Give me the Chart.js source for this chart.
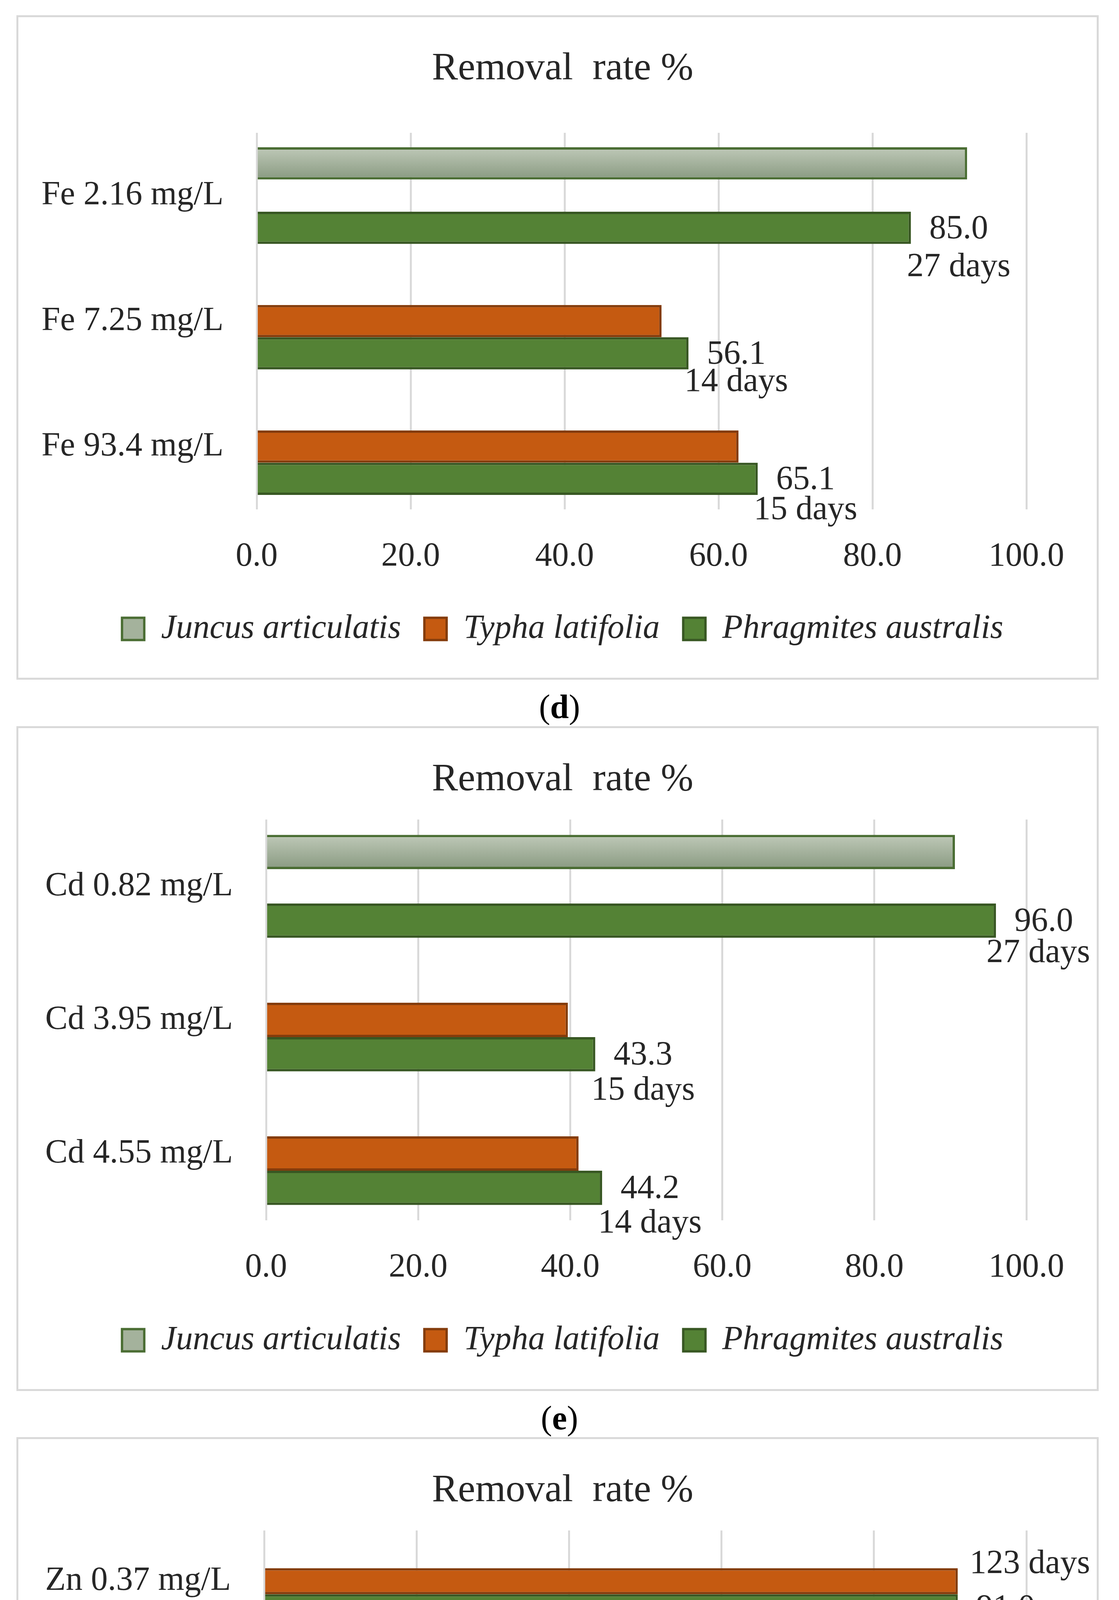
<!DOCTYPE html>
<html>
<head>
<meta charset="utf-8">
<title>Removal rate %</title>
<script src="https://cdn.jsdelivr.net/npm/chart.js@4.4.1/dist/chart.umd.min.js"></script>
<style>
  html, body { margin: 0; padding: 0; background: #fff; }
  body { width: 2864px; height: 5537px; position: relative; font-family: "Liberation Serif", "Times New Roman", serif; }
  .frame { position: absolute; left: 42px; width: 2770px; border: 5px solid #d9d9d9; box-sizing: border-box; background: #fff; }
  .frame canvas { display: block; }
  .caption { position: absolute; left: 0; width: 2864px; text-align: center; font-size: 86px; line-height: 104px; color: #000; }
</style>
</head>
<body>
<div class="frame" style="top:39px;height:1701px"><canvas id="chart-fe" width="2760" height="1691"></canvas></div>
<div class="caption" style="top:1757px">(<b>d</b>)</div>

<div class="frame" style="top:1859px;height:1702px"><canvas id="chart-cd" width="2760" height="1692"></canvas></div>
<div class="caption" style="top:3578px">(<b>e</b>)</div>

<div class="frame" style="top:3679px;height:1717px"><canvas id="chart-zn" width="2760" height="1707"></canvas></div>
<div class="caption" style="top:5413px">(<b>f</b>)</div>

<script>
// Data
const speciesNames = ['Juncus articulatis', 'Typha latifolia', 'Phragmites australis'];
const xTickValues = [0, 20, 40, 60, 80, 100];

const feLabels = ['Fe 2.16 mg/L', 'Fe 7.25 mg/L', 'Fe 93.4 mg/L'];
const feJuncus = [92.3, null, null];
const feTypha = [null, 52.6, 62.6];
const fePhragmites = [85.0, 56.1, 65.1];
const feDays = ['27 days', '14 days', '15 days'];

const cdLabels = ['Cd 0.82 mg/L', 'Cd 3.95 mg/L', 'Cd 4.55 mg/L'];
const cdJuncus = [90.6, null, null];
const cdTypha = [null, 39.7, 41.1];
const cdPhragmites = [96.0, 43.3, 44.2];
const cdDays = ['27 days', '15 days', '14 days'];

const znLabels = ['Zn 0.37 mg/L', 'Zn 0.82 mg/L', 'Zn 6.06 mg/L', 'Zn 47.2 mg/L'];
const znJuncus = [null, 98.3, null, null];
const znTypha = [91.0, null, 52.6, 59.4];
const znPhragmites = [91.0, 99.5, 55.1, 55.8];
const znDays = ['123 days', '27 days', '14 days', '15 days'];

// where the "days" line sits relative to the value label (px, negative = above)
const feDaysGap = [97, 70, 77];
const cdDaysGap = [80, 90, 88];
const znDaysGap = [-114, 76, 95, 86];

const FONT = '"Liberation Serif", "Times New Roman", serif';
const TEXT = '#262626';
const LABEL_SIZE = 86;
const LEGEND_PAD = 60;
const PAD_LEFT = 46;
const PAD_RIGHT = 20;
const PAD_BOTTOM = 72;
const PLOT_RIGHT = 2580;

Chart.defaults.font.family = FONT;
Chart.defaults.color = TEXT;

// Juncus bars get a vertical light-to-dark green/grey gradient
const juncusGradient = {
    id: 'juncusGradient',
    beforeDatasetsDraw(chart) {
        const ctx = chart.ctx;
        chart.getDatasetMeta(0).data.forEach(bar => {
            if (!bar || isNaN(bar.y) || !bar.height) return;
            const top = bar.y - bar.height / 2;
            const g = ctx.createLinearGradient(0, top, 0, top + bar.height);
            g.addColorStop(0, '#bfc9b8');
            g.addColorStop(1, '#899a81');
            bar.options.backgroundColor = g;
        });
    }
};

// value + duration notes next to the Phragmites bars
const barNotes = {
    id: 'barNotes',
    afterDatasetsDraw(chart) {
        const ds = chart.data.datasets[2];
        const ctx = chart.ctx;
        const limit = chart.width - 17;
        ctx.save();
        ctx.font = LABEL_SIZE + 'px ' + FONT;
        ctx.fillStyle = TEXT;
        ctx.textBaseline = 'middle';
        ctx.textAlign = 'left';
        chart.getDatasetMeta(2).data.forEach((bar, i) => {
            const v = ds.data[i];
            if (v === null) return;
            const txt = v.toFixed(1);
            const w1 = ctx.measureText(txt).width;
            const x1 = Math.min(bar.x + 47, limit - w1);
            const y1 = bar.y + 4;
            ctx.fillText(txt, x1, y1);
            const gap = ds.daysGap[i];
            const w2 = ctx.measureText(ds.days[i]).width;
            // a note above the bar is pushed to the right edge, below it is centred
            const x2 = gap < 0 ? limit - w2 : Math.min(x1 + w1 / 2 - w2 / 2, limit - w2);
            ctx.fillText(ds.days[i], x2, y1 + gap);
        });
        ctx.restore();
    }
};

function makeChart(id, labels, juncus, typha, phrag, days, daysGap, box) {
    const canvas = document.getElementById(id);
    const legendHeight = LABEL_SIZE + LEGEND_PAD + 10;
    const xAxisHeight = canvas.height - PAD_BOTTOM - legendHeight - box.plotBottom;

    return new Chart(canvas.getContext('2d'), {
        type: 'bar',
        data: {
            labels: labels,
            datasets: [{
                label: speciesNames[0],
                data: juncus,
                backgroundColor: () => '#a4b29c',
                borderColor: '#4a6d33',
                borderWidth: 6
            }, {
                label: speciesNames[1],
                data: typha,
                backgroundColor: '#c55a11',
                borderColor: '#843c0c',
                borderWidth: 6
            }, {
                label: speciesNames[2],
                data: phrag,
                days: days,
                daysGap: daysGap,
                backgroundColor: '#548235',
                borderColor: '#385723',
                borderWidth: 6
            }]
        },
        options: {
            indexAxis: 'y',
            responsive: false,
            animation: false,
            devicePixelRatio: 1,
            events: [],
            barPercentage: 1,
            categoryPercentage: 0.77,
            layout: {
                padding: { top: 0, left: PAD_LEFT, right: PAD_RIGHT, bottom: PAD_BOTTOM }
            },
            scales: {
                x: {
                    min: 0,
                    max: 100,
                    afterBuildTicks: s => { s.ticks = xTickValues.map(v => ({ value: v })); },
                    afterFit: s => { s.height = xAxisHeight; },
                    grid: { color: '#d9d9d9', lineWidth: 5, drawTicks: false },
                    border: { display: false },
                    ticks: {
                        padding: 70,
                        maxRotation: 0,
                        color: TEXT,
                        font: { size: LABEL_SIZE },
                        callback: v => v.toFixed(1)
                    }
                },
                y: {
                    afterFit: s => { s.width = box.plotLeft - PAD_LEFT; },
                    grid: { display: false, drawTicks: false },
                    border: { display: false },
                    ticks: { padding: 85, color: TEXT, font: { size: LABEL_SIZE } }
                },
                // empty strip on the right so the plot ends where the reference does
                yRight: {
                    type: 'linear',
                    position: 'right',
                    afterFit: s => { s.width = canvas.width - PAD_RIGHT - PLOT_RIGHT; },
                    grid: { display: false, drawTicks: false },
                    border: { display: false },
                    ticks: { display: false }
                }
            },
            plugins: {
                title: {
                    display: true,
                    text: 'Removal  rate %',
                    color: TEXT,
                    font: { size: 100, weight: 'normal' },
                    padding: { top: 73, bottom: box.plotTop - 193 }
                },
                legend: {
                    position: 'bottom',
                    labels: {
                        boxWidth: 57,
                        boxHeight: 57,
                        padding: LEGEND_PAD,
                        color: TEXT,
                        font: { size: LABEL_SIZE, style: 'italic' }
                    }
                },
                tooltip: { enabled: false }
            }
        },
        plugins: [juncusGradient, barNotes]
    });
}

makeChart('chart-fe', feLabels, feJuncus, feTypha, fePhragmites, feDays, feDaysGap,
    { plotTop: 296, plotBottom: 1260, plotLeft: 610 });
makeChart('chart-cd', cdLabels, cdJuncus, cdTypha, cdPhragmites, cdDays, cdDaysGap,
    { plotTop: 234, plotBottom: 1260, plotLeft: 634 });
makeChart('chart-zn', znLabels, znJuncus, znTypha, znPhragmites, znDays, znDaysGap,
    { plotTop: 234, plotBottom: 1273, plotLeft: 629 });
</script>
</body>
</html>
